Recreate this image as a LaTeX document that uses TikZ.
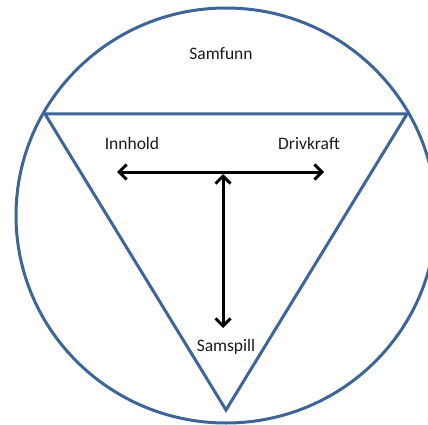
\documentclass[tikz,border=0pt]{standalone}
\usepackage{fontspec}
\setmainfont{Carlito}
\usetikzlibrary{arrows.meta}
\definecolor{ringblue}{HTML}{3E6598}
\definecolor{txt}{HTML}{1A1A1A}
\begin{document}
\begin{tikzpicture}[x=1pt,y=-1pt,
  shape line/.style={draw=ringblue,line width=3pt},
  arrowline/.style={draw=black,line width=3pt,{Straight Barb[length=7.5pt,width=15pt]}-{Straight Barb[length=7.5pt,width=15pt]}},
  label text/.style={text=txt,font=\fontsize{17.5}{20}\selectfont,inner sep=0pt}]
\useasboundingbox (0,0) rectangle (428,425);
\draw[shape line] (226,215.5) ellipse [x radius=210, y radius=207.5];
\coordinate (tl) at (45,114);
\coordinate (tr) at (407,114);
\coordinate (apex) at (226,410);
\draw[shape line,line join=miter] (tl) -- (tr) -- (apex) -- cycle;
\node[label text] (samfunn) at (221,54) {Samfunn};
\node[label text] (innhold) at (132,143) {Innhold};
\node[label text] (drivkraft) at (309,143) {Drivkraft};
\node[label text] (samspill) at (226,347) {Samspill};
\coordinate (hl) at (117,172);
\coordinate (hr) at (324,172);
\coordinate (vt) at (223,174);
\coordinate (vb) at (223,328);
\draw[arrowline] (hl) -- (hr);
\draw[arrowline] (vt) -- (vb);
\end{tikzpicture}
\end{document}
